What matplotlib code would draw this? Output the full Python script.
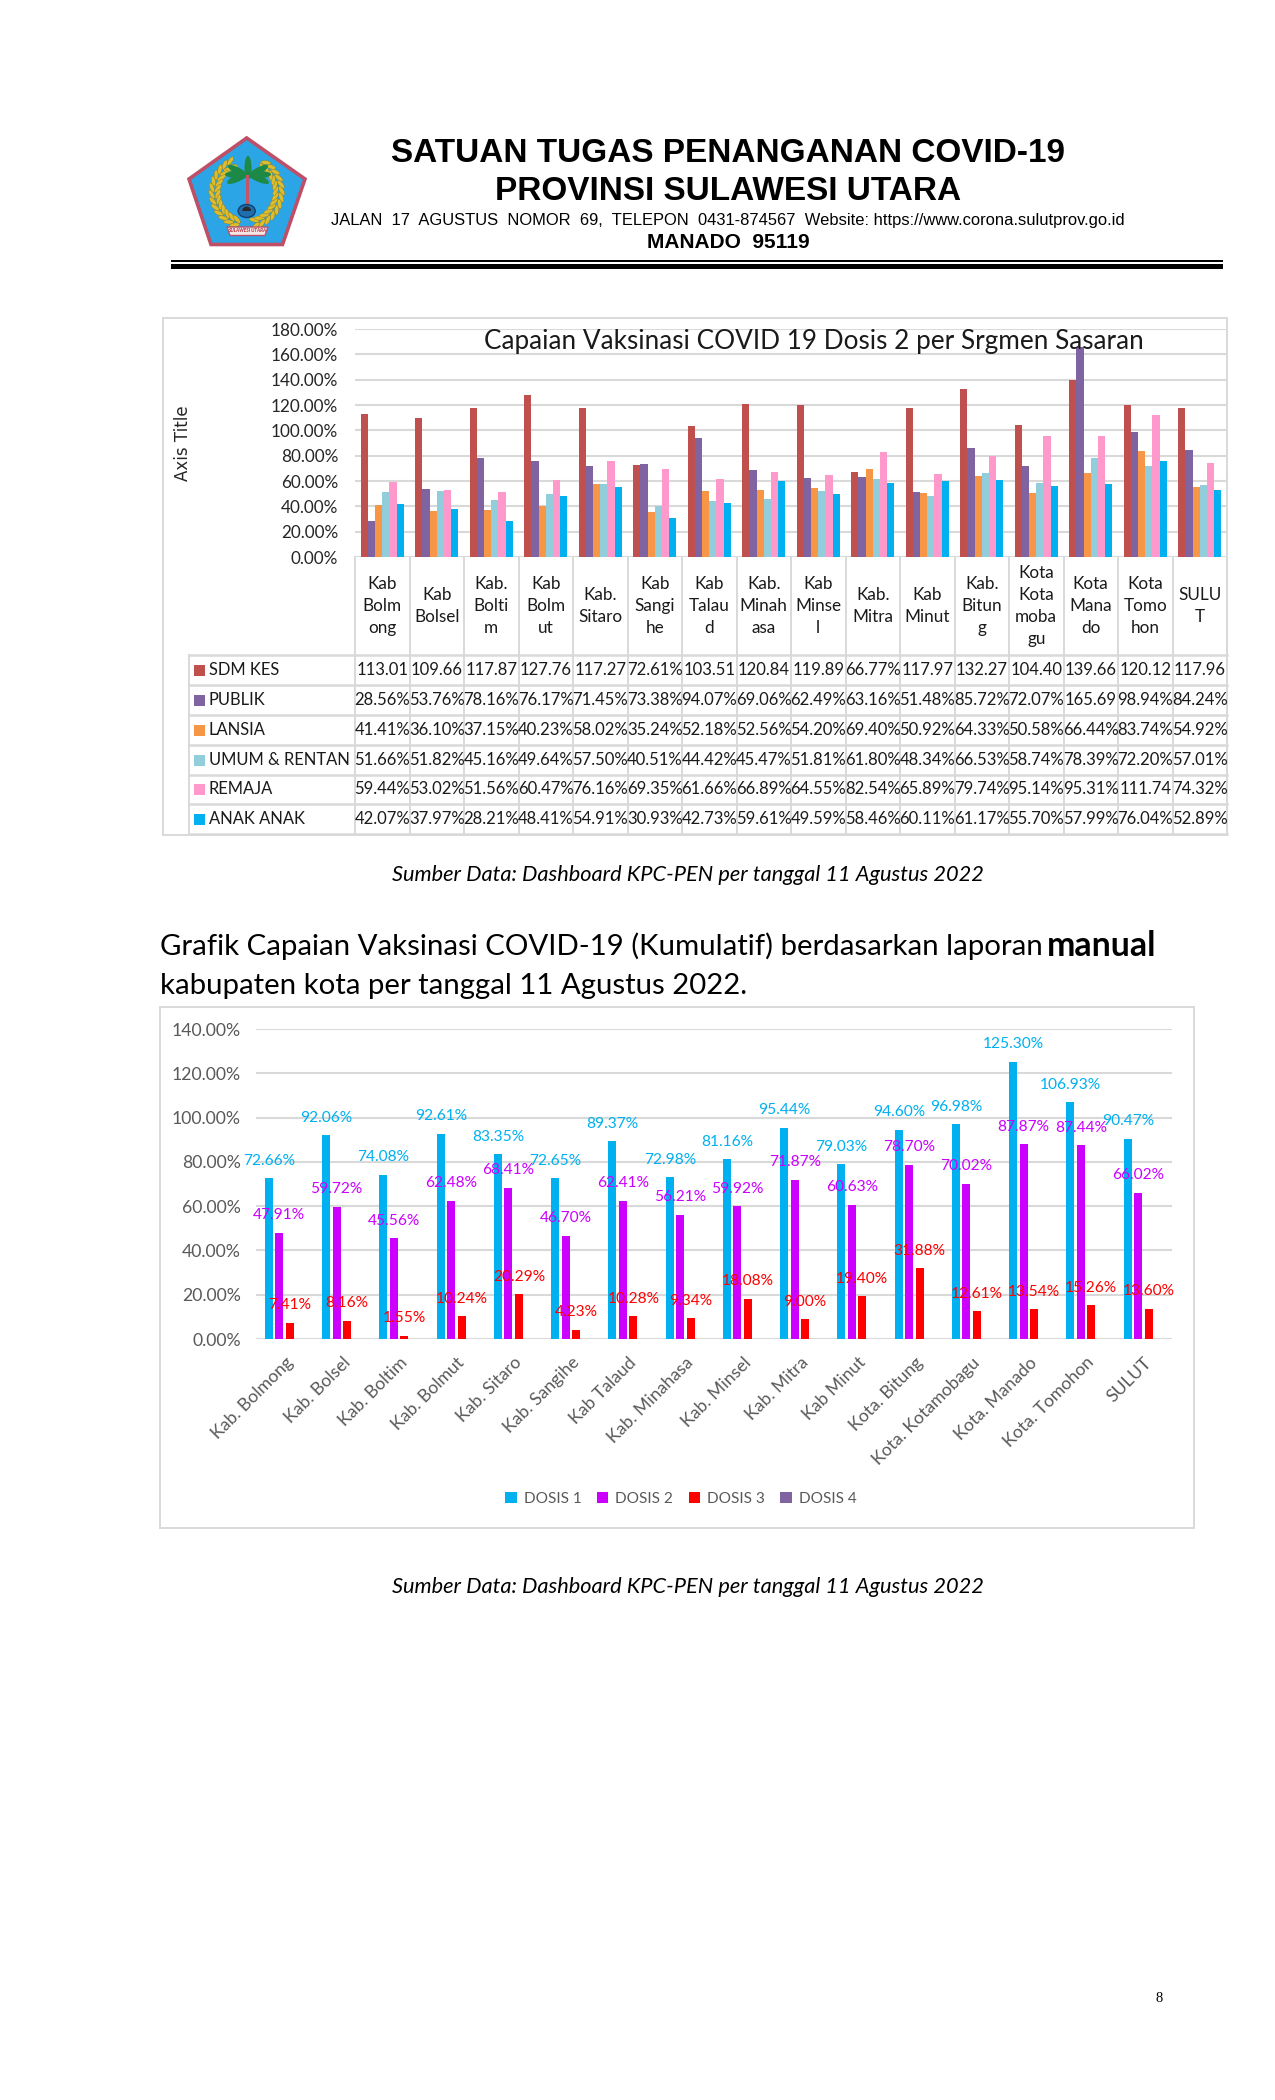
import numpy as np
import matplotlib
matplotlib.use("Agg")
import matplotlib.pyplot as plt
from matplotlib.patches import Rectangle, Polygon, Ellipse, Wedge
from matplotlib.ticker import FuncFormatter

# ---------- data ----------
table_categories = ["Kab\nBolm\nong", "Kab\nBolsel", "Kab.\nBolti\nm", "Kab\nBolm\nut", "Kab.\nSitaro",
                    "Kab\nSangi\nhe", "Kab\nTalau\nd", "Kab.\nMinah\nasa", "Kab\nMinse\nl", "Kab.\nMitra",
                    "Kab\nMinut", "Kab.\nBitun\ng", "Kota\nKota\nmoba\ngu", "Kota\nMana\ndo",
                    "Kota\nTomo\nhon", "SULU\nT"]
segment_names = ["SDM KES", "PUBLIK", "LANSIA", "UMUM & RENTAN", "REMAJA", "ANAK ANAK"]
sdm_kes = [113.01, 109.66, 117.87, 127.76, 117.27, 72.61, 103.51, 120.84, 119.89, 66.77, 117.97, 132.27, 104.40, 139.66, 120.12, 117.96]
publik = [28.56, 53.76, 78.16, 76.17, 71.45, 73.38, 94.07, 69.06, 62.49, 63.16, 51.48, 85.72, 72.07, 165.69, 98.94, 84.24]
lansia = [41.41, 36.10, 37.15, 40.23, 58.02, 35.24, 52.18, 52.56, 54.20, 69.40, 50.92, 64.33, 50.58, 66.44, 83.74, 54.92]
umum_rentan = [51.66, 51.82, 45.16, 49.64, 57.50, 40.51, 44.42, 45.47, 51.81, 61.80, 48.34, 66.53, 58.74, 78.39, 72.20, 57.01]
remaja = [59.44, 53.02, 51.56, 60.47, 76.16, 69.35, 61.66, 66.89, 64.55, 82.54, 65.89, 79.74, 95.14, 95.31, 111.74, 74.32]
anak_anak = [42.07, 37.97, 28.21, 48.41, 54.91, 30.93, 42.73, 59.61, 49.59, 58.46, 60.11, 61.17, 55.70, 57.99, 76.04, 52.89]
segment_values = [sdm_kes, publik, lansia, umum_rentan, remaja, anak_anak]
segment_colors = ["#C0504D", "#8064A2", "#F79646", "#92CDDC", "#FF99CC", "#00B0F0"]

regions = ["Kab. Bolmong", "Kab. Bolsel", "Kab. Boltim", "Kab. Bolmut", "Kab. Sitaro", "Kab. Sangihe", "Kab Talaud",
           "Kab. Minahasa", "Kab. Minsel", "Kab. Mitra", "Kab Minut", "Kota. Bitung", "Kota. Kotamobagu",
           "Kota. Manado", "Kota. Tomohon", "SULUT"]
dosis_1 = [72.66, 92.06, 74.08, 92.61, 83.35, 72.65, 89.37, 72.98, 81.16, 95.44, 79.03, 94.60, 96.98, 125.30, 106.93, 90.47]
dosis_2 = [47.91, 59.72, 45.56, 62.48, 68.41, 46.70, 62.41, 56.21, 59.92, 71.87, 60.63, 78.70, 70.02, 87.87, 87.44, 66.02]
dosis_3 = [7.41, 8.16, 1.55, 10.24, 20.29, 4.23, 10.28, 9.34, 18.08, 9.00, 19.40, 31.88, 12.61, 13.54, 15.26, 13.60]
dosis_names = ["DOSIS 1", "DOSIS 2", "DOSIS 3", "DOSIS 4"]
dosis_colors = ["#00B0F0", "#CC00FF", "#FF0000", "#8064A2"]

W, H = 1275, 2100
GRID = "#D9D9D9"
plt.rcParams["font.family"] = ["Lato", "DejaVu Sans"]
fig = plt.figure(figsize=(W / 100, H / 100), dpi=100, facecolor="white")

def px_axes(l, t, r, b, z=1):
    ax = fig.add_axes([l / W, 1 - b / H, (r - l) / W, (b - t) / H], zorder=z)
    ax.patch.set_alpha(0)
    return ax

page = px_axes(0, 0, W, H, 0)
page.set_xlim(0, W); page.set_ylim(H, 0); page.axis("off")

# ---------- letterhead ----------
hdr = ["Liberation Sans"]
page.text(728, 153, "SATUAN TUGAS PENANGANAN COVID-19", family=hdr, weight="bold", fontsize=24.0, ha="center", va="center", color="black")
page.text(728, 191, "PROVINSI SULAWESI UTARA", family=hdr, weight="bold", fontsize=24.0, ha="center", va="center", color="black")
page.text(728, 220, "JALAN  17  AGUSTUS  NOMOR  69,  TELEPON  0431-874567  Website: https://www.corona.sulutprov.go.id", family=hdr, fontsize=11.9, ha="center", va="center", color="black")
page.text(728, 242, "MANADO  95119", family=hdr, weight="bold", fontsize=15, ha="center", va="center", color="black")
page.add_patch(Rectangle((171, 259.5), 1051.5, 2.5, color="black", lw=0))
page.add_patch(Rectangle((171, 263.5), 1051.5, 5, color="black", lw=0))

# logo
page.add_patch(Polygon([(246.7, 138), (305, 179), (282.5, 244.5), (211, 244.5), (189, 179)], closed=True, fc="#2BA5E6", ec="#BE4F66", lw=2.6))
cx, cy = 246.7, 192
for a0, a1 in ((118, 255), (-75, 62)):
    for j, a in enumerate(np.arange(a0, a1, 11)):
        for r, tilt in ((35, 28), (29, -28)):
            page.add_patch(Ellipse((cx + r * np.cos(np.radians(a)), cy - r * np.sin(np.radians(a))), 10, 4,
                                   angle=-(a + 90 + tilt), fc="#DDBD2E", ec="#8F7D1E", lw=0.3))
for d in (90, 150, 178, 205, 30, 2, -25):
    rad = np.radians(d)
    page.add_patch(Ellipse((248 + 11 * np.cos(rad), 175 - 7 * np.sin(rad)), 24, 7, angle=-d, fc="#1C8A46", lw=0))
page.add_patch(Rectangle((246.3, 175), 3, 34, fc="#C4566A", lw=0))
page.add_patch(Ellipse((246.7, 211), 17, 13, fc="#1F6FB0", ec="#123F6E", lw=1))
page.add_patch(Wedge((246.7, 211), 4.5, 180, 360, fc="#2A2A2A", lw=0))
page.add_patch(Polygon([(227, 227), (268, 227), (265, 235.5), (230, 235.5)], closed=True, fc="#F6E6E6", ec="#BE4F66", lw=1))
page.text(247.5, 231, "SULAWESI UTARA", fontsize=3.4, style="italic", weight="bold", color="#B02A3A", ha="center", va="center")

# ---------- chart 1: frame and table ----------
L1, R1, T1, B1 = 355, 1227, 329, 557
page.add_patch(Rectangle((163, 318), R1 - 163, 517, fc="none", ec=GRID, lw=1.4))
n = len(table_categories)
col_w = (R1 - L1) / n
rows_y = [655, 685, 715, 745, 775, 804, 834]

for i in range(n + 1):
    page.plot([L1 + i * col_w] * 2, [B1, rows_y[-1]], color=GRID, lw=1.4, zorder=1)
page.plot([189, 189], [rows_y[0], rows_y[-1]], color=GRID, lw=1.4)
for y in rows_y:
    page.plot([189, R1], [y, y], color=GRID, lw=1.8)
for i, c in enumerate(table_categories):
    page.text(L1 + (i + .5) * col_w, (B1 + rows_y[0]) / 2, c, ha="center", va="center", multialignment="center",
              fontsize=12.3, linespacing=1.45, color="#1A1A1A")
for r, (name, vals, col) in enumerate(zip(segment_names, segment_values, segment_colors)):
    yc = (rows_y[r] + rows_y[r + 1]) / 2
    page.add_patch(Rectangle((194, yc - 5.5), 10.5, 11, fc=col, lw=0))
    page.text(209, yc, name, ha="left", va="center", fontsize=11.9, color="#1A1A1A")
    for i, v in enumerate(vals):
        s = f"{v:.2f}" + ("%" if v < 100 else "")
        page.text(L1 + (i + .5) * col_w, yc, s, ha="center", va="center", fontsize=12, color="#1A1A1A")

ax1 = px_axes(L1, T1, R1, B1, 2)
x1 = np.arange(n)
bw1 = 7.2 / col_w
for k, (vals, col) in enumerate(zip(segment_values, segment_colors)):
    ax1.bar(x1 + (k - 2.5) * bw1, vals, bw1, color=col, zorder=3, clip_on=False)
ax1.set_xlim(-.5, n - .5); ax1.set_ylim(0, 180)
ax1.set_yticks(np.arange(0, 181, 20))
ax1.yaxis.set_major_formatter(FuncFormatter(lambda v, _: f"{v:.2f}%"))
ax1.tick_params(axis="y", length=0, pad=12, labelsize=12.3, labelcolor="#262626")
ax1.set_xticks([])
ax1.grid(axis="y", color=GRID, lw=1.5, zorder=0)
for s in ax1.spines.values():
    s.set_visible(False)
page.text(183, 443, "Axis Title", rotation=90, ha="center", va="center", fontsize=12, family=["DejaVu Sans"], color="#262626")
fig.text(814 / W, 1 - 341 / H, "Capaian Vaksinasi COVID 19 Dosis 2 per Srgmen Sasaran", ha="center", va="center", fontsize=18.8, color="#1A1A1A", zorder=5)

# ---------- captions and heading ----------
cap = "Sumber Data: Dashboard KPC-PEN per tanggal 11 Agustus 2022"
page.text(688, 875, cap, ha="center", va="center", fontsize=15.7, style="italic", color="black")
page.text(688, 1587, cap, ha="center", va="center", fontsize=15.7, style="italic", color="black")

t1 = page.text(160, 946, "Grafik Capaian Vaksinasi COVID-19 (Kumulatif) berdasarkan laporan", ha="left", va="center", fontsize=21.2, color="black")
fig.canvas.draw()
bb = t1.get_window_extent()
page.text(bb.x1 + 4, 946, "manual", ha="left", va="center", fontsize=24.4, weight="bold", color="black")
page.text(160, 986, "kabupaten kota per tanggal 11 Agustus 2022.", ha="left", va="center", fontsize=21.2, color="black")

# ---------- chart 2 ----------
page.add_patch(Rectangle((160, 1007), 1034, 521, fc="none", ec=GRID, lw=1.4))
L2, R2, T2, B2 = 256, 1172, 1029, 1339
ax2 = px_axes(L2, T2, R2, B2, 2)
m = len(regions)
x2 = np.arange(m)
gw = (R2 - L2) / m
step, bw2 = 10.45 / gw, 8.0 / gw
for k, (vals, col) in enumerate(zip([dosis_1, dosis_2, dosis_3], dosis_colors)):
    xs = x2 + (k - 1.5) * step
    ax2.bar(xs, vals, bw2, color=col, zorder=3)
    for xi, v in zip(xs, vals):
        ax2.annotate(f"{v:.2f}%", (xi, v), xytext=(0, 12.6), textcoords="offset points", ha="center", va="center",
                     fontsize=11.2, color=col, zorder=5, annotation_clip=False)
ax2.set_xlim(-.5, m - .5); ax2.set_ylim(0, 140)
ax2.set_yticks(np.arange(0, 141, 20))
ax2.yaxis.set_major_formatter(FuncFormatter(lambda v, _: f"{v:.2f}%"))
ax2.tick_params(axis="y", length=0, pad=11, labelsize=12.7, labelcolor="#595959")
ax2.set_xticks(x2)
ax2.set_xticklabels(regions, rotation=45, ha="right", va="top", rotation_mode="anchor", fontsize=12.7, color="#595959")
ax2.tick_params(axis="x", length=0, pad=11)
ax2.grid(axis="y", color=GRID, lw=1.5, zorder=0)
for s in ax2.spines.values():
    s.set_visible(False)
handles = [Rectangle((0, 0), 1, 1, fc=c, lw=0) for c in dosis_colors]
fig.legend(handles, dosis_names, loc="center", bbox_to_anchor=(681 / W, 1 - 1499 / H), ncol=4, frameon=False,
           fontsize=11.1, handlelength=0.75, handleheight=0.75, handletextpad=0.45, columnspacing=1.0, labelcolor="#595959")

page.text(1159, 1999, "8", family=["Liberation Serif"], fontsize=10.5, ha="center", va="center", color="black")

fig.savefig("out.png", dpi=100)
